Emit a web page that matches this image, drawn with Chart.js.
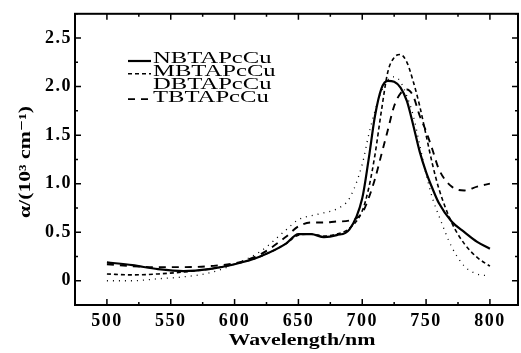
<!DOCTYPE html>
<html>
<head>
<meta charset="utf-8">
<script src="https://cdn.jsdelivr.net/npm/chart.js@4"></script>
<style>
  html, body { margin: 0; padding: 0; background: #fff; }
  #wrap { width: 521px; height: 353px; }
</style>
</head>
<body>
<div id="wrap"><canvas id="absorb"></canvas></div>
<script>
const wavelengths = [500,520,540,560,580,600,620,640,650,660,670,680,690,700,705,710,715,720,725,730,735,740,745,750,755,760,770,780,790,800];
const nbtapccu = [0.19,0.16,0.12,0.10,0.12,0.17,0.25,0.38,0.48,0.48,0.45,0.47,0.53,0.85,1.25,1.70,1.98,2.06,2.05,1.99,1.85,1.60,1.33,1.12,0.95,0.80,0.61,0.50,0.40,0.33];
const mbtapccu = [0.07,0.06,0.07,0.09,0.12,0.17,0.25,0.38,0.47,0.48,0.46,0.48,0.54,0.72,0.95,1.30,1.75,2.15,2.30,2.33,2.25,2.05,1.80,1.50,1.20,0.95,0.60,0.38,0.24,0.15];
const dbtapccu = [0.00,0.00,0.02,0.04,0.08,0.17,0.30,0.52,0.63,0.67,0.70,0.74,0.85,1.20,1.50,1.75,1.95,2.07,2.10,2.05,1.90,1.70,1.40,1.10,0.85,0.67,0.35,0.15,0.07,0.05];
const tbtapccu = [0.17,0.15,0.14,0.14,0.15,0.18,0.27,0.45,0.56,0.60,0.60,0.61,0.62,0.70,0.85,1.05,1.30,1.55,1.80,1.93,1.97,1.90,1.70,1.54,1.35,1.15,0.97,0.93,0.97,1.00];
const seriesNames = ['NBTAPcCu', 'MBTAPcCu', 'DBTAPcCu', 'TBTAPcCu'];
const xTicks = [500, 550, 600, 650, 700, 750, 800];
const yTicks = [0, 0.5, 1.0, 1.5, 2.0, 2.5];
const xTitle = 'Wavelength/nm';
const yTitle = 'α/(10³ cm⁻¹)';

const FONT = '"Liberation Serif", "DejaVu Serif", serif';

function pts(ys) {
  return wavelengths.map((w, i) => ({ x: w, y: ys[i] }));
}

// draw text squeezed/stretched to a given width (the scan is wide)
function stretchText(ctx, text, cx, cy, width) {
  const w = ctx.measureText(text).width;
  ctx.save();
  ctx.translate(cx, cy);
  ctx.scale(width / w, 1);
  ctx.textAlign = 'center';
  ctx.fillText(text, 0, 0);
  ctx.restore();
}

const spacingPlugin = {
  id: 'spacing',
  beforeDraw(chart) { chart.ctx.letterSpacing = '1.5px'; }
};

// frame, inward ticks, titles and the legend block
const framePlugin = {
  id: 'frame',
  afterDraw(chart) {
    const { ctx, chartArea: a, scales } = chart;
    const xs = scales.x, ys = scales.y;
    ctx.save();
    ctx.letterSpacing = '0px';
    ctx.strokeStyle = '#000';
    ctx.lineWidth = 2;
    ctx.strokeRect(a.left, a.top, a.right - a.left, a.bottom - a.top);
    ctx.lineWidth = 1.5;
    ctx.beginPath();
    for (let v = 500; v <= 822; v += 25) {
      const px = xs.getPixelForValue(v);
      const len = v % 50 === 0 ? 6 : 3;
      ctx.moveTo(px, a.bottom); ctx.lineTo(px, a.bottom - len);
      ctx.moveTo(px, a.top); ctx.lineTo(px, a.top + len);
    }
    for (let v = -0.25; v <= 2.76; v += 0.25) {
      const py = ys.getPixelForValue(v);
      const major = Math.abs(v * 2 - Math.round(v * 2)) < 1e-6;
      const len = major ? 6 : 3;
      ctx.moveTo(a.left, py); ctx.lineTo(a.left + len, py);
      ctx.moveTo(a.right, py); ctx.lineTo(a.right - len, py);
    }
    ctx.stroke();

    ctx.fillStyle = '#000';
    ctx.textBaseline = 'alphabetic';
    ctx.font = 'bold 17px ' + FONT;
    stretchText(ctx, xTitle, 302, 345, 147);

    ctx.save();
    ctx.translate(30, 162);
    ctx.rotate(-Math.PI / 2);
    ctx.font = 'bold 16px ' + FONT;
    stretchText(ctx, yTitle, 0, 0, 112);
    ctx.restore();

    // legend
    ctx.font = '17px ' + FONT;
    ctx.textBaseline = 'middle';
    const lx = 128, tx = 153, y0 = 59, dy = 12.7;
    chart.data.datasets.forEach((ds, i) => {
      const y = y0 + i * dy;
      if (ds.legendLine) {
        ctx.setLineDash(ds.borderDash || []);
        ctx.lineWidth = ds.borderWidth;
        ctx.beginPath();
        ctx.moveTo(lx, y + 2); ctx.lineTo(tx - 2, y + 2);
        ctx.stroke();
      }
      ctx.setLineDash([]);
      ctx.save();
      ctx.translate(tx, y);
      ctx.scale(1.45, 1);
      ctx.fillText(ds.label, 0, 0);
      ctx.restore();
    });
    ctx.restore();
  }
};

const ctx = document.getElementById('absorb');
new Chart(ctx, {
  type: 'line',
  data: {
    datasets: [
      { label: seriesNames[0], data: pts(nbtapccu), borderColor: '#000', borderWidth: 2.2, legendLine: true },
      { label: seriesNames[1], data: pts(mbtapccu), borderColor: '#000', borderWidth: 1.6, borderDash: [4, 3], legendLine: true },
      { label: seriesNames[2], data: pts(dbtapccu), borderColor: '#000', borderWidth: 1.3, borderDash: [1, 5], legendLine: false },
      { label: seriesNames[3], data: pts(tbtapccu), borderColor: '#000', borderWidth: 1.9, borderDash: [7, 6], legendLine: true }
    ]
  },
  options: {
    responsive: true,
    maintainAspectRatio: false,
    animation: false,
    layout: { padding: { left: 0, top: 13, right: 3, bottom: 0 } },
    elements: {
      point: { radius: 0 },
      line: { cubicInterpolationMode: 'monotone', fill: false }
    },
    plugins: {
      legend: { display: false },
      tooltip: { enabled: false }
    },
    scales: {
      x: {
        type: 'linear',
        min: 475,
        max: 822,
        grid: { display: false, drawTicks: false },
        border: { display: false },
        afterBuildTicks: s => { s.ticks = xTicks.map(v => ({ value: v })); },
        afterFit: s => { s.height = 48; },
        ticks: {
          padding: 6,
          color: '#000',
          font: { family: FONT, size: 18, weight: 'bold' },
          maxRotation: 0
        }
      },
      y: {
        min: -0.25,
        max: 2.75,
        grid: { display: false, drawTicks: false },
        border: { display: false },
        afterBuildTicks: s => { s.ticks = yTicks.map(v => ({ value: v })); },
        afterFit: s => { s.width = 75; },
        ticks: {
          padding: 3,
          color: '#000',
          font: { family: FONT, size: 18, weight: 'bold' },
          callback: v => v === 0 ? '0' : v.toFixed(1)
        }
      }
    }
  },
  plugins: [spacingPlugin, framePlugin]
});
</script>
</body>
</html>
